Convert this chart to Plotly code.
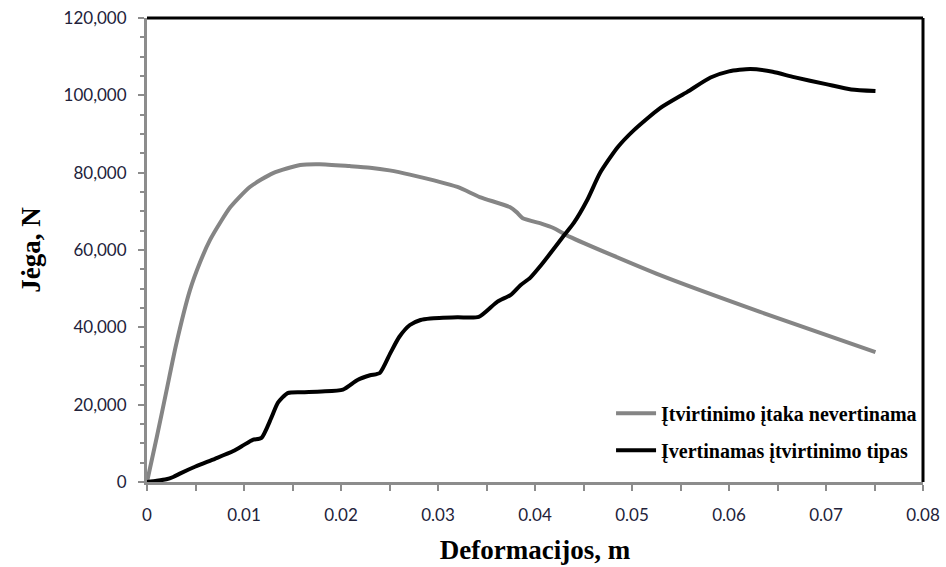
import plotly.graph_objects as go

# Force–deformation curves
defo_free = [0, 0.001, 0.002, 0.003, 0.00443, 0.0055, 0.0065, 0.0076, 0.0086, 0.0106,
             0.013, 0.0158, 0.0178, 0.0209, 0.023, 0.025, 0.0271, 0.032, 0.0343, 0.0374,
             0.0381, 0.0387, 0.0408, 0.0419, 0.0436, 0.0529, 0.0632, 0.0751]
force_free = [0, 11500, 23500, 35500, 49600, 57000, 62600, 67300, 71100, 76300,
              79900, 82000, 82200, 81700, 81300, 80600, 79500, 76300, 73700, 71100,
              69800, 68300, 66700, 65700, 63400, 53500, 44000, 33600]

defo_fixed = [0, 0.001, 0.002, 0.0027, 0.0035, 0.005, 0.007, 0.0089, 0.01, 0.0109,
              0.0118, 0.0128, 0.0135, 0.0145, 0.016, 0.018, 0.0202, 0.0217, 0.023, 0.024,
              0.0251, 0.026, 0.0271, 0.0282, 0.0292, 0.032, 0.0342, 0.0361, 0.0375, 0.0385,
              0.0395, 0.0406, 0.042, 0.043, 0.044, 0.0454, 0.0467, 0.0485, 0.0502, 0.0529,
              0.0557, 0.0581, 0.06, 0.0622, 0.0645, 0.0667, 0.07, 0.0726, 0.0751]
force_fixed = [0, 300, 700, 1300, 2300, 4000, 6000, 8000, 9600, 10900,
               11400, 16500, 20500, 23000, 23200, 23400, 23900, 26400, 27600, 28200,
               33400, 37500, 40600, 41900, 42300, 42600, 42700, 46600, 48400, 50900,
               52800, 56000, 60500, 63800, 67000, 73000, 79900, 86500, 91000, 96700,
               100900, 104600, 106200, 106800, 106100, 104700, 102900, 101500, 101100]

name_free = "Įtvirtinimo įtaka nevertinama"
name_fixed = "Įvertinamas įtvirtinimo tipas"

x_ticks = [0, 0.01, 0.02, 0.03, 0.04, 0.05, 0.06, 0.07, 0.08]
x_tick_text = ["0", "0.01", "0.02", "0.03", "0.04", "0.05", "0.06", "0.07", "0.08"]
y_ticks = [0, 20000, 40000, 60000, 80000, 100000, 120000]
y_tick_text = ["0", "20,000", "40,000", "60,000", "80,000", "100,000", "120,000"]

serif_bold = dict(family="Liberation Serif, Times New Roman, serif", color="black", weight=700)
tick_font = dict(family="Lato, Open Sans, sans-serif", size=17, color="#22223a")

fig = go.Figure()
fig.add_trace(go.Scatter(x=defo_free, y=force_free, mode="lines", name=name_free,
                         legendgroup="a",
                         line=dict(color="#858585", width=4, shape="spline", smoothing=0.6)))
fig.add_trace(go.Scatter(x=defo_fixed, y=force_fixed, mode="lines", name=name_fixed,
                         legendgroup="b",
                         line=dict(color="black", width=4, shape="spline", smoothing=0.6)))

axis_common = dict(showgrid=False, zeroline=False, showline=True, linecolor="#8c8c8c",
                   linewidth=3, ticks="outside", tickcolor="#8c8c8c", tickwidth=1.5,
                   ticklen=6, tickfont=tick_font)

fig.update_xaxes(range=[0, 0.08], tickvals=x_ticks, ticktext=x_tick_text,
                 minor=dict(dtick=0.005, tick0=0, ticks="outside", ticklen=6,
                            tickcolor="#8c8c8c", tickwidth=1.5),
                 ticklabelstandoff=10,
                 title=dict(text="Deformacijos, m", font=dict(size=27, **serif_bold), standoff=16),
                 **axis_common)
fig.update_yaxes(range=[0, 120000], tickvals=y_ticks, ticktext=y_tick_text,
                 minor=dict(dtick=5000, tick0=0, ticks="outside", ticklen=4,
                            tickcolor="#8c8c8c", tickwidth=1.5),
                 ticklabelstandoff=8,
                 title=dict(text="Jėga, N", font=dict(size=27, **serif_bold), standoff=16),
                 **axis_common)

# black frame on the top and right edges of the plot area
fig.add_shape(type="line", xref="paper", yref="paper", x0=0, x1=1, y0=1, y1=1,
              line=dict(color="black", width=3))
fig.add_shape(type="line", xref="paper", yref="paper", x0=1, x1=1, y0=0, y1=1,
              line=dict(color="black", width=3))

fig.update_layout(
    width=946, height=567,
    margin=dict(l=147, r=23, t=18, b=85, autoexpand=False),
    paper_bgcolor="white", plot_bgcolor="white",
    showlegend=True,
    legend=dict(x=0.598, y=0.19, xanchor="left", yanchor="top",
                bgcolor="rgba(0,0,0,0)", font=dict(size=20, **serif_bold),
                tracegroupgap=8, itemwidth=40),
)

fig.write_html("out.html")
